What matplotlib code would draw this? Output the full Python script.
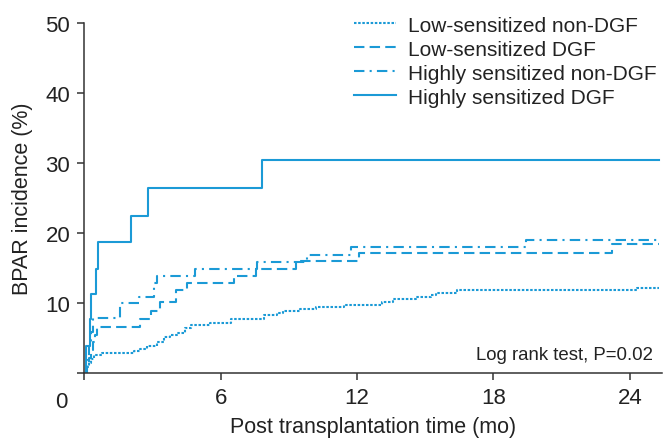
import numpy as np
import matplotlib.pyplot as plt

plt.rcParams['font.family'] = ['Liberation Sans', 'DejaVu Sans']

blue = '#1b9ad6'
t_end = 25.3

# step times (mo) and cumulative incidence (%)
low_non_t = [0, 0.1, 0.19, 0.28, 0.41, 0.8, 2.2, 2.47, 2.77, 3.21, 3.52, 3.78, 4.09, 4.44,
             4.7, 5.53, 6.45, 7.9, 8.46, 8.73, 9.47, 10.21, 11.44, 13.1, 13.59, 14.59,
             15.25, 15.47, 16.39, 24.3]
low_non_v = [0, 0.8, 1.5, 2.0, 2.6, 2.9, 3.2, 3.5, 3.9, 4.4, 5.1, 5.4, 5.7, 6.4,
             6.8, 7.1, 7.7, 8.3, 8.6, 8.9, 9.1, 9.4, 9.7, 10.1, 10.6, 10.8,
             11.1, 11.5, 11.9, 12.2]

low_dgf_t = [0, 0.1, 0.2, 0.3, 0.4, 0.48, 0.58, 2.45, 2.95, 3.33, 4.03, 4.5, 6.6, 7.56,
             9.3, 12.08, 23.2]
low_dgf_v = [0, 1.1, 2.2, 3.3, 4.4, 5.5, 6.6, 7.7, 8.8, 10.1, 11.8, 12.9, 13.9, 14.9,
             16.0, 17.2, 18.5]

high_non_t = [0, 0.12, 0.2, 0.3, 0.4, 1.57, 2.43, 3.05, 3.2, 4.87, 7.6, 9.82, 11.74, 19.43]
high_non_v = [0, 1.9, 3.9, 5.8, 7.8, 10.0, 10.8, 12.9, 13.8, 14.9, 15.9, 16.9, 18.0, 19.0]

high_dgf_t = [0, 0.1, 0.25, 0.32, 0.51, 0.61, 2.04, 2.81, 7.84]
high_dgf_v = [0, 3.8, 7.7, 11.3, 14.9, 18.7, 22.5, 26.4, 30.5]

series = [
    ('Low-sensitized non-DGF', low_non_t, low_non_v, (0, (1.2, 0.8))),
    ('Low-sensitized DGF', low_dgf_t, low_dgf_v, (0, (5, 2.5))),
    ('Highly sensitized non-DGF', high_non_t, high_non_v, (0, (5, 2.5, 1, 2.5))),
    ('Highly sensitized DGF', high_dgf_t, high_dgf_v, '-'),
]

fig = plt.figure(figsize=(6.63, 4.39), dpi=100)
ax = fig.add_axes([0.127, 0.148, 0.871, 0.797])

for name, t, v, ls in series:
    ax.step(t + [t_end], v + [v[-1]], where='post', color=blue, lw=1.5,
            linestyle=ls, label=name)

ax.set_xlim(0, 25.4)
ax.set_ylim(0, 50)
ax.set_xticks([0, 6, 12, 18, 24])
ax.set_xticklabels(['', '6', '12', '18', '24'])
ax.set_yticks([0, 10, 20, 30, 40, 50])
ax.set_yticklabels(['', '10', '20', '30', '40', '50'])
ax.tick_params(direction='out', length=5, width=1.1, colors='#333333',
               labelsize=16, labelcolor='#222222', pad=5)
for s in ['top', 'right']:
    ax.spines[s].set_visible(False)
for s in ['left', 'bottom']:
    ax.spines[s].set_color('#333333')
    ax.spines[s].set_linewidth(1.1)

ax.text(-0.75, -2.6, '0', fontsize=16, color='#222222', ha='right', va='top')
ax.set_xlabel('Post transplantation time (mo)', fontsize=15.5, color='#222222', labelpad=6)
ax.set_ylabel('BPAR incidence (%)', fontsize=15.5, color='#222222', labelpad=9)
ax.text(0.985, 0.03, 'Log rank test, P=0.02', transform=ax.transAxes,
        fontsize=13.4, color='#222222', ha='right', va='bottom')

leg = ax.legend(loc='upper right', bbox_to_anchor=(1.005, 1.045), frameon=False,
                fontsize=15.0, handlelength=2.0, handletextpad=0.55, labelspacing=0.24,
                borderaxespad=0.0)
for txt in leg.get_texts():
    txt.set_color('#222222')

fig.savefig('out.png', dpi=100)
